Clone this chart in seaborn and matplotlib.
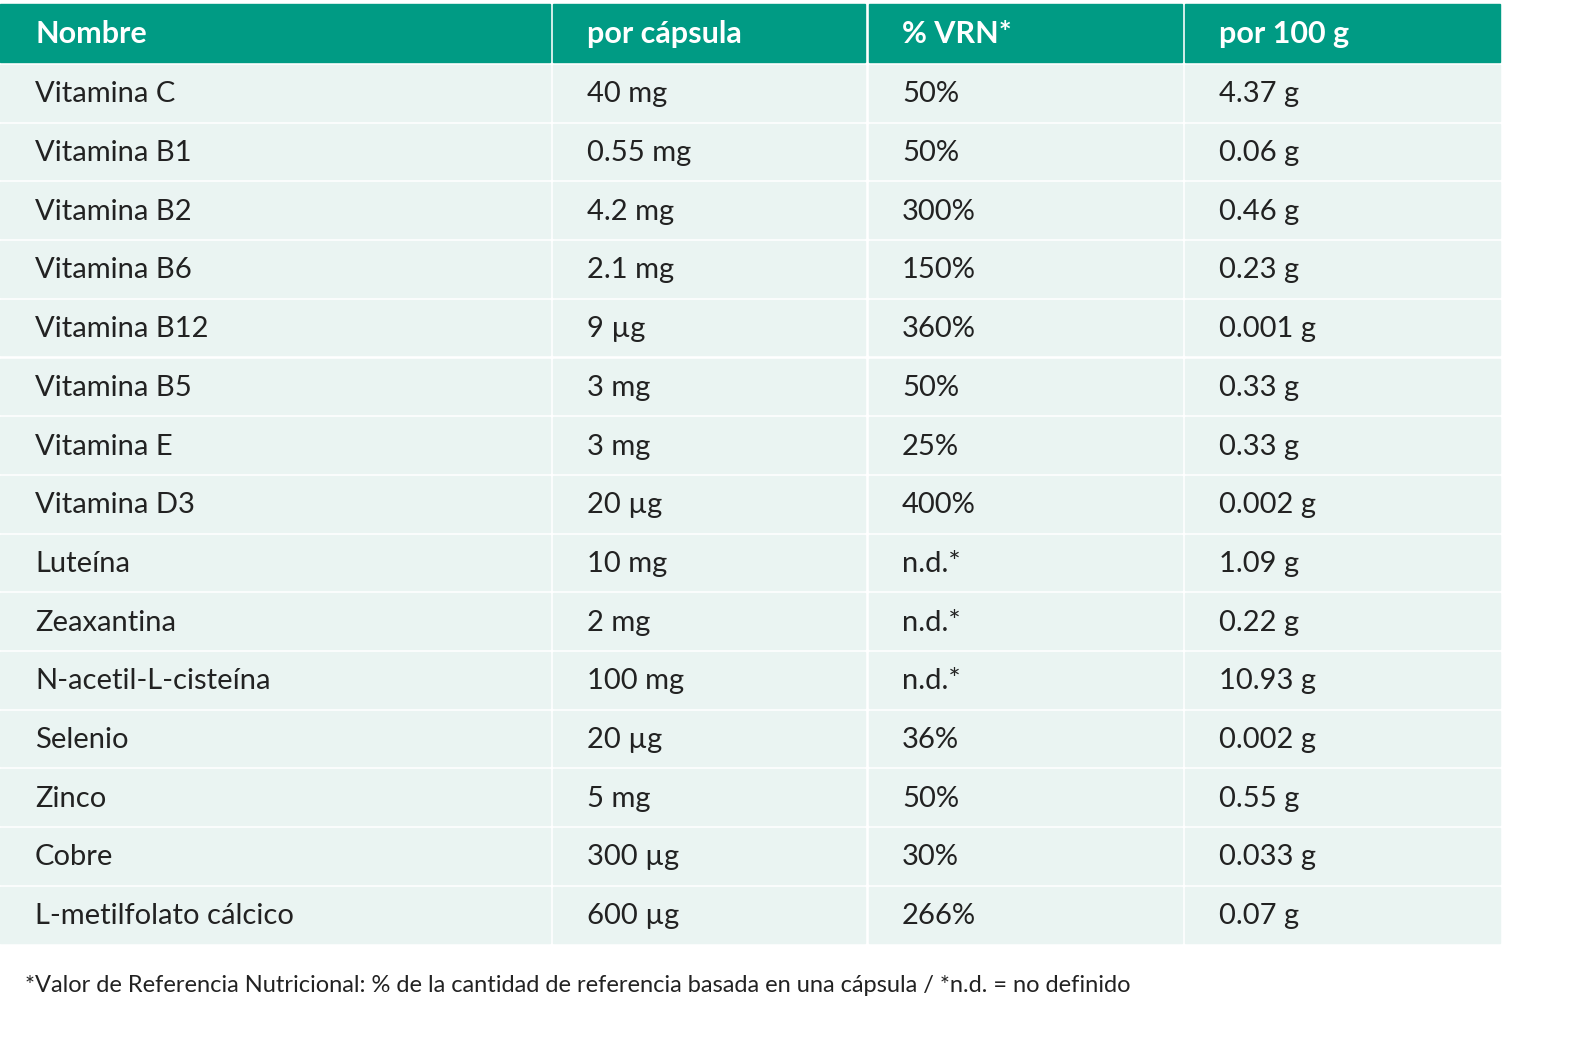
import matplotlib.pyplot as plt
import matplotlib.patches as patches
import seaborn as sns

sns.set_theme(style="white")
plt.rcParams['font.family'] = ['Lato', 'DejaVu Sans']

header = ["Nombre", "por cápsula", "% VRN*", "por 100 g"]
rows = [
    ["Vitamina C", "40 mg", "50%", "4.37 g"],
    ["Vitamina B1", "0.55 mg", "50%", "0.06 g"],
    ["Vitamina B2", "4.2 mg", "300%", "0.46 g"],
    ["Vitamina B6", "2.1 mg", "150%", "0.23 g"],
    ["Vitamina B12", "9 µg", "360%", "0.001 g"],
    ["Vitamina B5", "3 mg", "50%", "0.33 g"],
    ["Vitamina E", "3 mg", "25%", "0.33 g"],
    ["Vitamina D3", "20 µg", "400%", "0.002 g"],
    ["Luteína", "10 mg", "n.d.*", "1.09 g"],
    ["Zeaxantina", "2 mg", "n.d.*", "0.22 g"],
    ["N-acetil-L-cisteína", "100 mg", "n.d.*", "10.93 g"],
    ["Selenio", "20 µg", "36%", "0.002 g"],
    ["Zinco", "5 mg", "50%", "0.55 g"],
    ["Cobre", "300 µg", "30%", "0.033 g"],
    ["L-metilfolato cálcico", "600 µg", "266%", "0.07 g"],
]

col_edges = [(0, 550), (553, 865), (869, 1182), (1185, 1500)]  # pixel spans
text_x = [35, 587, 902, 1219]
row_h = 58.7
top = 4

fig = plt.figure(figsize=(15.8, 10.37), dpi=100)
ax = fig.add_axes([0, 0, 1, 1])
ax.set_xlim(0, 1580)
ax.set_ylim(1037, 0)
ax.axis('off')

# header
for (x0, x1), tx, h in zip(col_edges, text_x, header):
    ax.add_patch(patches.Rectangle((x0, top), x1 - x0, 58, color='#009B84'))
    ax.text(tx, top + 30, h, color='white', fontsize=22, fontweight='bold', va='center')

# body
for i, r in enumerate(rows):
    y0 = top + 61 + i * row_h
    for (x0, x1), tx, val in zip(col_edges, text_x, r):
        ax.add_patch(patches.Rectangle((x0, y0), x1 - x0, row_h - 3, color='#EAF4F2'))
        ax.text(tx, y0 + row_h / 2, val, color='#222222', fontsize=21, va='center')

ax.text(25, 985, "*Valor de Referencia Nutricional: % de la cantidad de referencia basada en una cápsula / *n.d. = no definido",
        color='#222222', fontsize=17, va='center')

plt.savefig('out.png', dpi=100)
